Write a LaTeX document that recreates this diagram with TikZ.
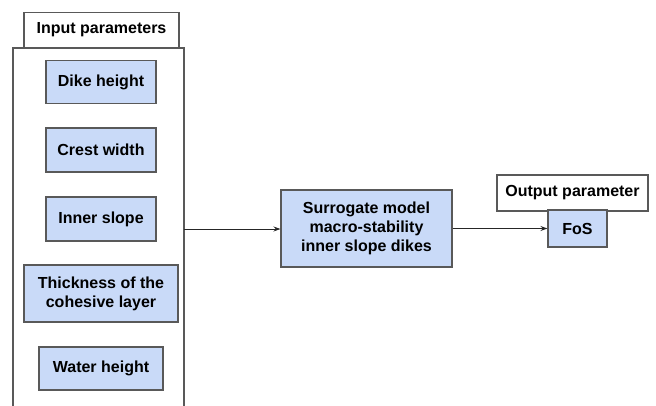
\documentclass[tikz,border=0pt]{standalone}
\usepackage{fontspec}
\setmainfont{Liberation Sans}
\usetikzlibrary{arrows.meta}
\definecolor{boxblue}{HTML}{C9DAF8}
\definecolor{edgegray}{HTML}{595959}
\begin{document}
\begin{tikzpicture}[x=1pt,y=-1pt,
  param/.style={draw=edgegray, line width=1.1pt, fill=boxblue, inner sep=0pt,
    font=\bfseries\fontsize{16}{19}\selectfont, align=center},
  label/.style={draw=edgegray, line width=1.1pt, fill=white, inner sep=0pt,
    font=\bfseries\fontsize{16}{19}\selectfont, align=center},
  link/.style={draw=black!85, line width=1pt, -{Stealth[length=7pt,width=5pt]}}]
\useasboundingbox (0,0) rectangle (656,405);

% input container, open at the bottom
\draw[edgegray, line width=1.1pt] (13,406) -- (13,48) -- (184,48) -- (184,406);
\coordinate (cont) at (184,229);
\node[label, minimum width=155pt, minimum height=35pt] (inlab) at (101.5,30) {Input parameters};

% input parameters
\node[param, minimum width=110pt, minimum height=43pt] (dike) at (101,82) {Dike height};
\node[param, minimum width=110pt, minimum height=44pt] (crest) at (101,150) {Crest width};
\node[param, minimum width=110pt, minimum height=44pt] (slope) at (101,219) {Inner slope};
\node[param, minimum width=154pt, minimum height=57pt] (thick) at (101,293.5) {Thickness of the\\cohesive layer};
\node[param, minimum width=124pt, minimum height=43pt] (water) at (101,368.5) {Water height};

% surrogate model
\node[param, minimum width=171pt, minimum height=77pt] (model) at (366.5,228.5) {Surrogate model\\macro-stability\\inner slope dikes};

% output
\node[label, minimum width=151pt, minimum height=36pt] (outlab) at (572.5,193) {Output parameter};
\node[param, minimum width=59pt, minimum height=37pt] (fos) at (577.5,228.5) {FoS};

\draw[link] (cont) -- (cont -| model.west);
\draw[link] (model.east) -- (fos.west);
\end{tikzpicture}
\end{document}
